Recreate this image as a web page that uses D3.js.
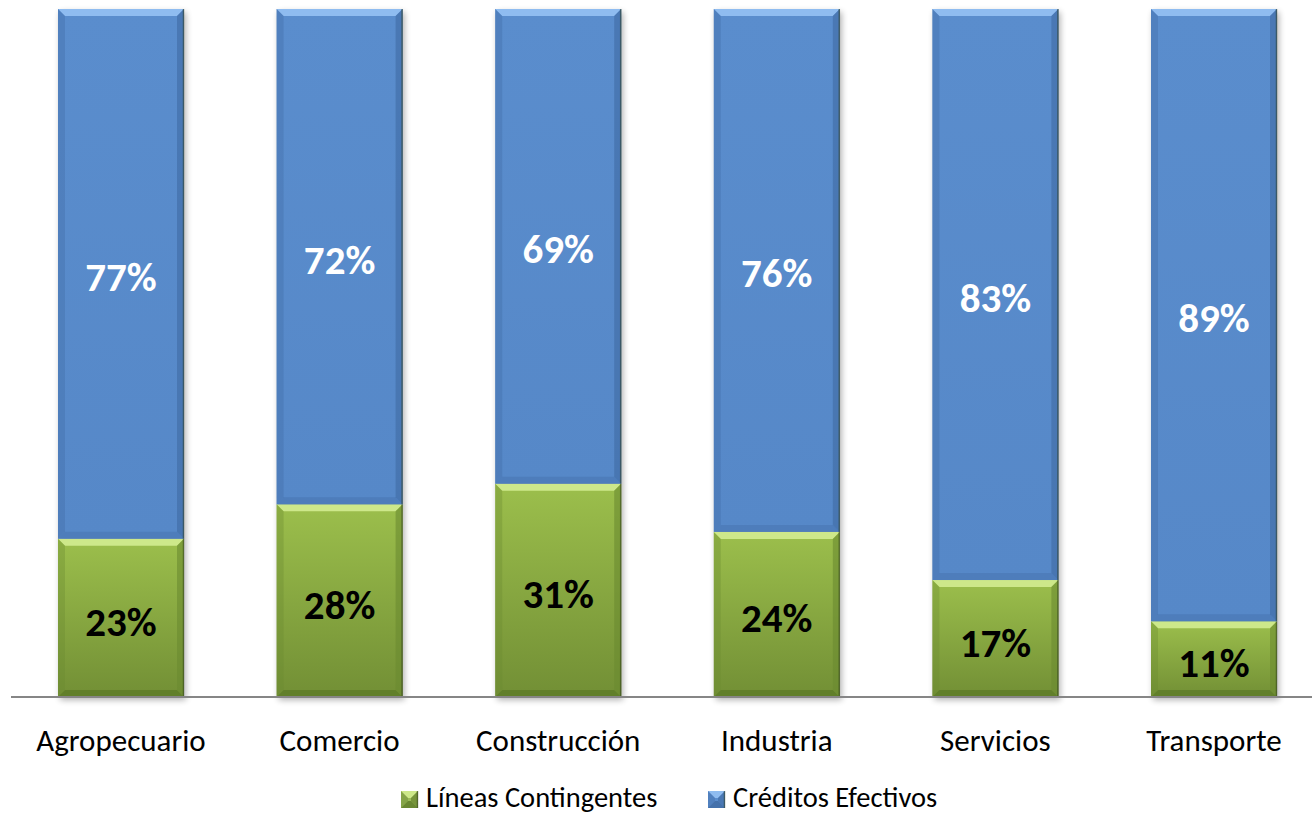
<!DOCTYPE html>
<html>
<head>
<meta charset="utf-8">
<script src="https://cdn.jsdelivr.net/npm/d3@7"></script>
<style>
  body { margin: 0; background: #fff; }
  svg text { font-family: Carlito, "Open Sans", "Liberation Sans", sans-serif; }
</style>
</head>
<body>
<div id="chart"></div>
<script>
// Data
const categories = ["Agropecuario", "Comercio", "Construcción", "Industria", "Servicios", "Transporte"];
const lineasContingentes = [23, 28, 31, 24, 17, 11];
const creditosEfectivos = [77, 72, 69, 76, 83, 89];
const seriesNames = ["Líneas Contingentes", "Créditos Efectivos"];

const W = 1312, H = 814;
const margin = {top: 9, right: 0, bottom: 117, left: 11};
const width = W - margin.left - margin.right;
const height = H - margin.top - margin.bottom;

const svg = d3.select("#chart").append("svg")
  .attr("width", W).attr("height", H);

const defs = svg.append("defs");

// Gradients
const gGreen = defs.append("linearGradient").attr("id", "gGreen")
  .attr("x1", 0).attr("y1", 0).attr("x2", 0).attr("y2", 1);
gGreen.append("stop").attr("offset", "0%").attr("stop-color", "#9cbf4c");
gGreen.append("stop").attr("offset", "100%").attr("stop-color", "#728f35");

const gBlue = defs.append("linearGradient").attr("id", "gBlue")
  .attr("x1", 0).attr("y1", 0).attr("x2", 0).attr("y2", 1);
gBlue.append("stop").attr("offset", "0%").attr("stop-color", "#5a8dcd");
gBlue.append("stop").attr("offset", "100%").attr("stop-color", "#5688c8");

const shadow = defs.append("filter").attr("id", "shadow")
  .attr("x", "-10%").attr("y", "-10%").attr("width", "130%").attr("height", "130%");
shadow.append("feGaussianBlur").attr("stdDeviation", 3);

const g = svg.append("g").attr("transform", "translate(" + margin.left + "," + margin.top + ")");

// Scales
const x = d3.scaleBand().domain(categories).range([47, 1266]).paddingInner(0.4236).paddingOuter(0);
const y = d3.scaleLinear().domain([0, 100]).range([height, 0]);

const data = categories.map((c, i) => ({cat: c, green: lineasContingentes[i], blue: creditosEfectivos[i]}));

// shadows
g.selectAll(".shadow").data(data).enter().append("rect")
  .attr("x", d => x(d.cat) + 2)
  .attr("y", y(100) + 3)
  .attr("width", x.bandwidth())
  .attr("height", height - y(100))
  .attr("fill", "#000").attr("opacity", 0.3)
  .attr("filter", "url(#shadow)");

const bev = 7;
function drawBevelBar(sel, x0, y0, w, h, fill, light, dark, side, darkOp) {
  sel.append("rect").attr("x", x0).attr("y", y0).attr("width", w).attr("height", h).attr("fill", fill);
  const b = Math.min(bev, h / 2);
  // top bevel
  sel.append("polygon")
    .attr("points", [[x0, y0], [x0 + w, y0], [x0 + w - b, y0 + b], [x0 + b, y0 + b]].join(" "))
    .attr("fill", light);
  // bottom bevel
  sel.append("polygon")
    .attr("points", [[x0, y0 + h], [x0 + w, y0 + h], [x0 + w - b, y0 + h - b], [x0 + b, y0 + h - b]].join(" "))
    .attr("fill", dark).attr("opacity", darkOp);
  // side bevels
  sel.append("polygon")
    .attr("points", [[x0, y0], [x0 + b, y0 + b], [x0 + b, y0 + h - b], [x0, y0 + h]].join(" "))
    .attr("fill", side).attr("opacity", 0.35);
  sel.append("polygon")
    .attr("points", [[x0 + w, y0], [x0 + w - b, y0 + b], [x0 + w - b, y0 + h - b], [x0 + w, y0 + h]].join(" "))
    .attr("fill", side).attr("opacity", 0.6);
  sel.append("line")
    .attr("x1", x0 + w - 0.5).attr("x2", x0 + w - 0.5).attr("y1", y0).attr("y2", y0 + h)
    .attr("stroke", "#2b3a1a").attr("stroke-opacity", 0.5).attr("stroke-width", 1.5);
}

data.forEach(d => {
  const bar = g.append("g").attr("class", "bar");
  const x0 = x(d.cat), w = x.bandwidth();
  // green (bottom)
  drawBevelBar(bar, x0, y(d.green), w, height - y(d.green), "url(#gGreen)", "#cde88a", "#5d7a28", "#6a8a30", 0.8);
  // blue (top)
  drawBevelBar(bar, x0, y(d.green + d.blue), w, y(d.green) - y(d.green + d.blue), "url(#gBlue)", "#8fbcf0", "#3f6aa3", "#3f6aa3", 0.35);

  bar.append("text")
    .attr("x", x0 + w / 2)
    .attr("y", (y(d.green) + height) / 2 + 4)
    .attr("text-anchor", "middle").attr("dominant-baseline", "central")
    .attr("font-size", 41).attr("font-weight", 700).attr("fill", "#000")
    .text(d.green + "%");
  bar.append("text")
    .attr("x", x0 + w / 2)
    .attr("y", (y(d.green) + y(d.green + d.blue)) / 2 + 3)
    .attr("text-anchor", "middle").attr("dominant-baseline", "central")
    .attr("font-size", 41).attr("font-weight", 700).attr("fill", "#fff")
    .text(d.blue + "%");
});

// X axis
g.append("line")
  .attr("x1", 0).attr("x2", width).attr("y1", height).attr("y2", height)
  .attr("stroke", "#868686").attr("stroke-width", 2);

g.selectAll(".cat").data(categories).enter().append("text")
  .attr("x", d => x(d) + x.bandwidth() / 2)
  .attr("y", height + 43)
  .attr("text-anchor", "middle").attr("dominant-baseline", "central")
  .attr("font-size", 31).attr("fill", "#000")
  .text(d => d);

// Legend
const legend = svg.append("g").attr("transform", "translate(0," + 794 + ")");
const legendItems = [
  {name: seriesNames[0], x: 401, fill: "#9bbb59", light: "#cde88a", dark: "#5d7a28"},
  {name: seriesNames[1], x: 708, fill: "#5a8dcd", light: "#8fbcf0", dark: "#3f6aa3"}
];
legendItems.forEach(it => {
  const lg = legend.append("g");
  drawBevelBar(lg, it.x, -3, 17, 17, it.fill, it.light, it.dark, it.dark, 0.8);
  lg.append("text")
    .attr("x", it.x + 25).attr("y", 3)
    .attr("dominant-baseline", "central")
    .attr("font-size", 28.5).attr("fill", "#000")
    .text(it.name);
});
</script>
</body>
</html>
